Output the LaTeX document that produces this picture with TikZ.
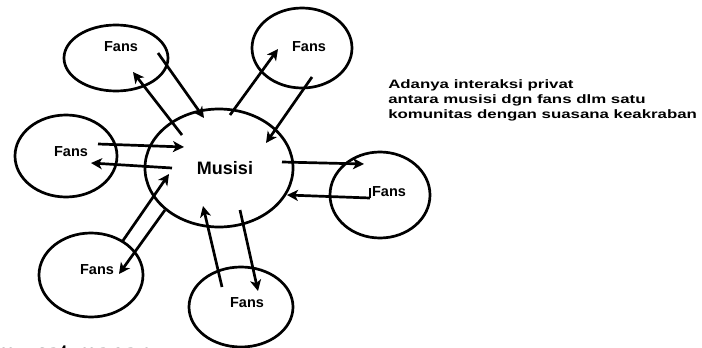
\documentclass[tikz,border=0pt]{standalone}
\usepackage{fontspec}
\setmainfont{Liberation Sans}
\newfontfamily\serifbig{Liberation Serif}
\usetikzlibrary{shapes.geometric,arrows.meta}
\begin{document}
\begin{tikzpicture}[x=1pt,y=-1pt,
  circ/.style={draw, line width=2.7pt, ellipse, inner sep=0pt},
  lbl/.style={font=\bfseries\fontsize{14.5}{14.5}\selectfont, inner sep=0pt},
  desc/.style={font=\bfseries\fontsize{12.2}{12.2}\selectfont, inner sep=0pt, anchor=west, xscale=1.38, transform shape},
  arr/.style={line width=2.7pt, -{Stealth[length=11pt,width=11pt,inset=3pt]}}]
\useasboundingbox (0,0) rectangle (702,348);
% ellipses
\node[circ, minimum width=104pt, minimum height=66pt] (tl) at (116,58) {};
\node[circ, minimum width=100pt, minimum height=80pt] (tr) at (302,48) {};
\node[circ, minimum width=102pt, minimum height=82pt] (lf) at (66,156) {};
\node[circ, minimum width=148pt, minimum height=118pt] (mu) at (219,168) {};
\node[circ, minimum width=104pt, minimum height=84pt] (bl) at (91,275) {};
\node[circ, minimum width=104pt, minimum height=80pt] (bo) at (241,307) {};
\node[circ, minimum width=100pt, minimum height=86pt] (rf) at (380,195) {};
% labels
\node[lbl] (ttl) at (121,47) {Fans};
\node[lbl] (ttr) at (309,47) {Fans};
\node[lbl] (tlf) at (71,152) {Fans};
\node[lbl, font=\bfseries\fontsize{18}{18}\selectfont] (tmu) at (225,168) {Musisi};
\node[lbl] (tbl) at (97,270) {Fans};
\node[lbl] (tbo) at (247,303) {Fans};
\node[lbl] (trf) at (389,192) {Fans};
% description
\node[desc] (d1) at (388,85) {Adanya interaksi privat};
\node[desc] (d2) at (388,100) {antara musisi dgn fans dlm satu};
\node[desc] (d3) at (388,115) {komunitas dengan suasana keakraban};
% arrow end points
\coordinate (a1s) at (182,135); \coordinate (a1e) at (133,72);
\coordinate (a2s) at (158,53);  \coordinate (a2e) at (204,118);
\coordinate (a3s) at (230,115); \coordinate (a3e) at (278,49);
\coordinate (a4s) at (312,77);  \coordinate (a4e) at (266,143);
\coordinate (a5s) at (98,144);  \coordinate (a5e) at (184,147);
\coordinate (a6s) at (172,168); \coordinate (a6e) at (91,163);
\coordinate (a7s) at (122,242); \coordinate (a7e) at (169,174);
\coordinate (a8s) at (165,210); \coordinate (a8e) at (119,274);
\coordinate (a9s) at (222,287); \coordinate (a9e) at (203,206);
\coordinate (a10s) at (240,210); \coordinate (a10e) at (258,291);
\coordinate (a11s) at (282,162); \coordinate (a11e) at (364,164);
\coordinate (a12t) at (370,188); \coordinate (a12s) at (370,198); \coordinate (a12e) at (287,195);
\draw[arr] (a1s) -- (a1e);
\draw[arr] (a2s) -- (a2e);
\draw[arr] (a3s) -- (a3e);
\draw[arr] (a4s) -- (a4e);
\draw[arr] (a5s) -- (a5e);
\draw[arr] (a6s) -- (a6e);
\draw[arr] (a7s) -- (a7e);
\draw[arr] (a8s) -- (a8e);
\draw[arr] (a9s) -- (a9e);
\draw[arr] (a10s) -- (a10e);
\draw[arr] (a11s) -- (a11e);
\draw[line width=2.2pt] (a12t) -- (a12s);
\draw[arr] (a12s) -- (a12e);
% cut-off text at the bottom
\begin{scope}
\clip (0,0) rectangle (702,348);
\node[font=\serifbig\bfseries\fontsize{26}{26}\selectfont, anchor=base west, inner sep=0pt] (cut) at (-6,360) {mu sat mapan};
\end{scope}
\end{tikzpicture}
\end{document}
